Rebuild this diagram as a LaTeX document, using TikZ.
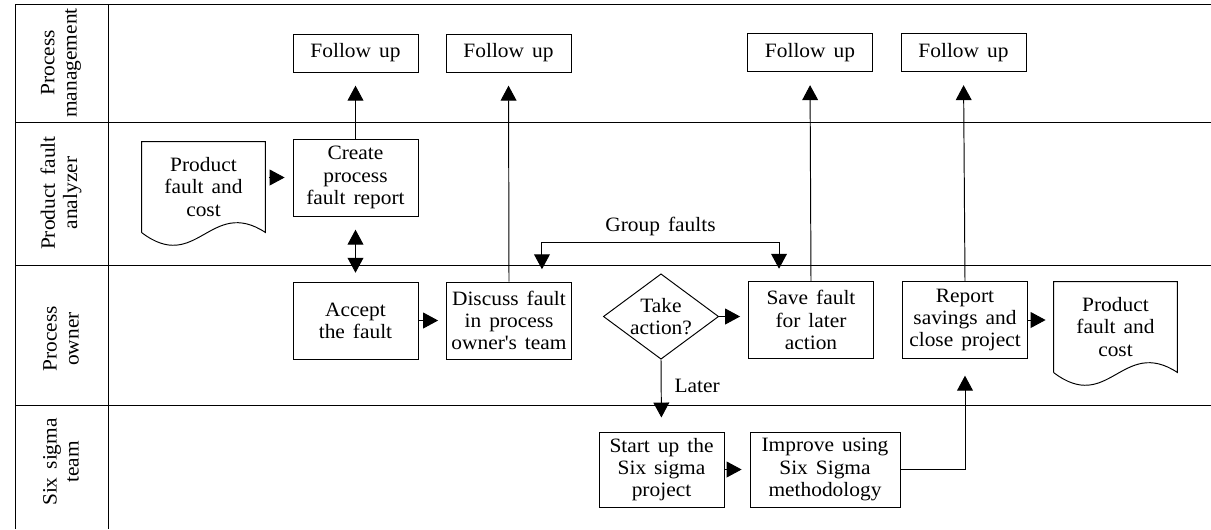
\documentclass[tikz,border=0pt]{standalone}
\usepackage{fontspec}
\setmainfont{Liberation Serif}[FakeStretch=1.05, WordSpace=1.5]
\usetikzlibrary{arrows.meta, calc, shapes.geometric}
\newcommand\laneA{122}
\newcommand\laneB{265}
\newcommand\laneC{405}
\newcommand\wavedoc[1]{%
  \draw (#1.south west) -- (#1.north west) -- (#1.north east) -- (#1.south east)
    .. controls ($(#1.south east)+(-55,-36)$) and ($(#1.south west)+(55,42)$) .. (#1.south west);}

\begin{document}
\begin{tikzpicture}[x=0.02cm, y=-0.02cm, line width=0.55pt,
    font=\fontsize{11.6}{12.6}\selectfont,
    box/.style={draw, align=center, inner sep=1.5pt, minimum width=2.5cm, minimum height=1.54cm},
    followbox/.style={box, minimum height=0.76cm},
    doc/.style={align=center, inner sep=0pt, minimum width=2.46cm, minimum height=1.8cm},
    decision/.style={diamond, draw, align=center, aspect=1.35, inner sep=0.5pt, minimum width=2.28cm, minimum height=1.7cm},
    lane/.style={rotate=90, align=center},
    arr/.style={-{Triangle[length=8.5pt,width=9pt]}, shorten >=4.5pt},
    dbl/.style={{Triangle[length=8.5pt,width=9pt]}-{Triangle[length=8.5pt,width=9pt]}}]

    \useasboundingbox (0, 0) rectangle (1211, 529);

    % Lanes
    \draw (15, 529) -- (15, 4) -- (1211, 4);
    \draw (108, 4) -- (108, 529);
    \foreach \y in {\laneA, \laneB, \laneC}
        \draw (15, \y) -- (1211, \y);

    \node at (61, 63) [lane] (lmgmt) {Process\\management};
    \node at (61, 193) [lane] (lanalyzer) {Product fault\\analyzer};
    \node at (61, 339) [lane] (lowner) {Process\\owner};
    \node at (61, 462) [lane] (lsigma) {Six sigma\\team};

    % Process management
    \node at (355.5, 53) [followbox] (fu1) {Follow up};
    \node at (508.5, 53) [followbox] (fu2) {Follow up};
    \node at (810, 52.5) [followbox] (fu3) {Follow up};
    \node at (963.5, 52.5) [followbox] (fu4) {Follow up};

    % Product fault analyzer
    \node at (203.5, 187) [doc] (doc1) {Product\\fault and\\cost};
    \wavedoc{doc1}
    \node at (355.5, 177.5) [box] (create) {Create\\process\\fault report};

    \draw[arr, shorten <=2pt] (doc1.east |- create.west) -- (create.west);
    \draw[arr, shorten >=7.5pt] (create.north) -- (fu1.south);

    % Process owner
    \node at (355.5, 320.5) [box] (accept) {Accept\\the fault};
    \node at (509, 320.5) [box] (discuss) {Discuss fault\\in process\\owner\textquotesingle s team};
    \node at (661, 316.5) [decision] (take) {Take\\action?};
    \node at (811, 320) [box] (save) {Save fault\\for later\\action};
    \node at (965, 320) [box] (report) {Report\\savings and\\close project};
    \node at (1115.5, 327) [doc] (doc2) {Product\\fault and\\cost};
    \wavedoc{doc2}

    \draw[dbl, shorten <=7.5pt, shorten >=5pt] (create.south) -- (accept.north);
    \draw[arr] (accept.east) -- (discuss.west);
    \draw[arr, shorten >=7.5pt] (discuss.north) -- (fu2.south);
    \draw[dbl, shorten <=7pt, shorten >=7pt] ($(discuss.north east)+(-30,0)$) -- ++(0,-39)
        -| ($(save.north west)+(31,0)$) node[pos=0.25, above] {Group faults};
    \draw[arr] (take.east) -- (take.east -| save.west);
    \draw[arr, shorten >=7.5pt] (save.north) -- (fu3.south);
    \draw[arr, shorten >=7.5pt] (report.north) -- (fu4.south);
    \draw[arr] (report.east) -- (report.east -| doc2.west);

    % Six sigma team
    \node at (661.5, 469.5) [box, minimum height=1.5cm] (start) {Start up the\\Six sigma\\project};
    \node at (825, 469.5) [box, minimum width=3cm, minimum height=1.5cm] (improve) {Improve using\\Six Sigma\\methodology};

    \draw[arr, shorten >=8pt] (take.south) -- (start.north) node[pos=0.36, right=4pt] {Later};
    \draw[arr] (start.east) -- (improve.west);
    \draw[arr, shorten >=9.5pt] (improve.east) -| (report.south);

\end{tikzpicture}
\end{document}
